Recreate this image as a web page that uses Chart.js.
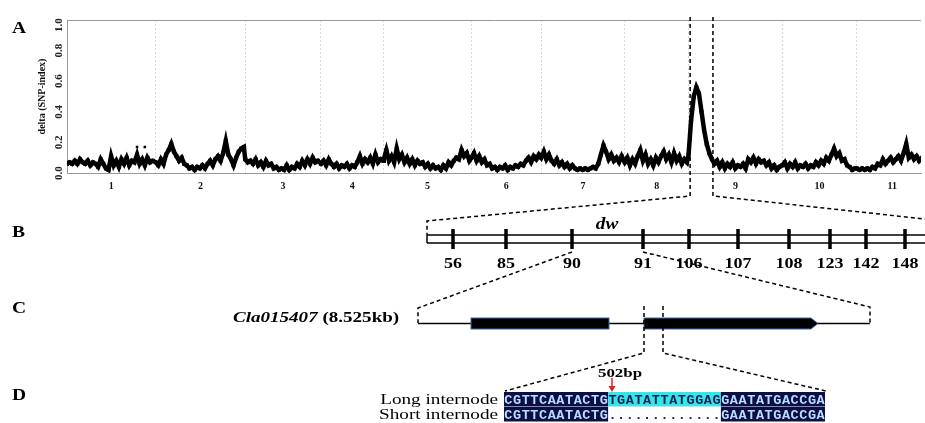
<!DOCTYPE html>
<html>
<head>
<meta charset="utf-8">
<script src="https://cdn.jsdelivr.net/npm/chart.js@4.4.0/dist/chart.umd.min.js"></script>
<style>
html, body { margin: 0; padding: 0; background: #fff; }
#wrap { position: relative; width: 925px; height: 423px; }
</style>
</head>
<body>
<div id="wrap"><canvas id="myChart"></canvas></div>
<script>
// chromosomes and their lengths (Mb)
const chromNames = ['1', '2', '3', '4', '5', '6', '7', '8', '9', '10', '11'];
const chromLen = [34.2, 34.5, 29.2, 24.2, 33.8, 26.9, 32.2, 24.6, 36.1, 28.8, 27.2];

// delta(SNP-index) per 1 Mb bin, in hundredths
const chr1 = [6, 7, 6, 8, 6, 9, 7, 6, 8, 5, 7, 6, 4, 9, 6, 3, 2, 11, 5, 8, 4, 9, 6, 10, 5, 8, 7, 12, 6, 9, 5, 10, 7, 8];
const chr2 = [7, 5, 9, 6, 12, 15, 19, 14, 11, 8, 10, 6, 5, 3, 4, 2, 4, 3, 5, 3, 6, 8, 5, 9, 11, 8, 13, 21, 12, 9, 5, 10, 14, 16, 17];
const chr3 = [9, 7, 8, 6, 9, 5, 7, 4, 8, 5, 6, 3, 4, 2, 3, 2, 5, 2, 4, 3, 6, 4, 8, 5, 9, 6, 10, 7, 8];
const chr4 = [6, 8, 5, 9, 6, 4, 6, 3, 5, 4, 6, 3, 5, 4, 7, 11, 6, 9, 7, 10, 6, 12, 7, 9, 8];
const chr5 = [9, 15, 8, 11, 7, 16, 9, 12, 7, 10, 6, 9, 5, 8, 6, 7, 4, 6, 3, 5, 3, 4, 2, 5, 3, 7, 5, 8, 10, 9, 15, 11, 13, 8];
const chr6 = [10, 13, 8, 11, 7, 9, 5, 6, 3, 4, 2, 4, 3, 5, 2, 4, 3, 5, 4, 6, 5, 8, 10, 7, 11, 9, 12];
const chr7 = [10, 14, 9, 12, 8, 6, 9, 5, 7, 4, 6, 3, 5, 3, 2, 3, 2, 3, 2, 3, 4, 3, 6, 12, 18, 14, 9, 12, 8, 10, 7, 11];
const chr8 = [7, 10, 5, 9, 6, 11, 15, 8, 12, 6, 9, 5, 10, 7, 11, 14, 9, 12, 7, 13, 8, 11, 6, 9, 7];
const chr9 = [12, 35, 50, 56, 52, 40, 28, 19, 13, 9, 6, 8, 4, 7, 3, 6, 4, 7, 3, 5, 4, 6, 3, 9, 7, 10, 6, 9, 7, 8, 5, 7, 3, 5, 2, 4];
const chr10 = [5, 7, 3, 6, 4, 7, 3, 5, 4, 6, 3, 5, 4, 7, 5, 8, 6, 10, 8, 12, 16, 11, 13, 8, 9, 5, 4, 2, 3];
const chr11 = [3, 2, 3, 2, 3, 2, 4, 3, 6, 5, 9, 6, 8, 10, 7, 9, 11, 8, 13, 19, 10, 12, 9, 11, 8, 10, 7];

// isolated points above the band
const outlierChrom = [0, 0];
const outlierPos = [27, 30];
const outlierVal = [17, 17];

const yTicks = [0, 0.2, 0.4, 0.6, 0.8, 1.0];
const xMax = 329.2;           // the plot is cut on the right, inside chr 11
const windowMb = [240.2, 249.0]; // dw locus window

const markerNames = ['56', '85', '90', '91', '106', '107', '108', '123', '142', '148'];
const seqLong = ['CGTTCAATACTG', 'TGATATTATGGAG', 'GAATATGACCGA'];
const seqShort = ['CGTTCAATACTG', '.............', 'GAATATGACCGA'];

const chrVals = [chr1, chr2, chr3, chr4, chr5, chr6, chr7, chr8, chr9, chr10, chr11];
const starts = [];
let acc = 0;
chromLen.forEach(l => { starts.push(acc); acc += l; });
const bounds = starts.concat([acc]).filter(b => b <= xMax);
const centers = starts.map((s, i) => s + chromLen[i] / 2);

const points = [];
chrVals.forEach((vals, c) => vals.forEach((v, i) => points.push({ x: starts[c] + i, y: v / 100 })));
const extra = outlierPos.map((p, i) => ({ x: starts[outlierChrom[i]] + p, y: outlierVal[i] / 100 }));

const near = (a, b) => Math.abs(a - b) < 1e-6;
const serif = '"Liberation Serif", "Times New Roman", serif';
const mono = '"Liberation Mono", "Courier New", monospace';

function sText(ctx, str, x, y, font, align, sx) {
    ctx.save();
    ctx.font = font;
    ctx.textAlign = align;
    ctx.textBaseline = 'alphabetic';
    ctx.translate(x, y);
    ctx.scale(sx, 1);
    ctx.fillText(str, 0, 0);
    ctx.restore();
}

function dashed(ctx, pts) {
    ctx.save();
    ctx.setLineDash([4, 3]);
    ctx.lineWidth = 1.5;
    ctx.strokeStyle = '#000';
    ctx.beginPath();
    ctx.moveTo(pts[0][0], pts[0][1]);
    for (let i = 1; i < pts.length; i++) ctx.lineTo(pts[i][0], pts[i][1]);
    ctx.stroke();
    ctx.restore();
}

const panels = {
    id: 'panels',
    afterDraw(chart) {
        const ctx = chart.ctx;
        const ys = chart.scales.y;
        const xs = chart.scales.x;
        ctx.fillStyle = '#000';

        // rotated y tick labels
        ys.ticks.forEach(t => {
            const py = Math.max(ys.getPixelForValue(t.value), 25);
            ctx.save();
            ctx.translate(59, py);
            ctx.rotate(-Math.PI / 2);
            ctx.font = 'bold 11px ' + serif;
            ctx.textAlign = 'center';
            ctx.textBaseline = 'middle';
            ctx.fillStyle = '#222';
            ctx.fillText(t.value.toFixed(1), 0, 0);
            ctx.restore();
        });

        // panel letters
        ['A', 'B', 'C', 'D'].forEach((l, i) => sText(ctx, l, 12, [33, 237, 313, 400][i], 'bold 17px ' + serif, 'left', 1.15));

        // window around the peak in A and zoom into B
        const wl = xs.getPixelForValue(windowMb[0]);
        const wr = xs.getPixelForValue(windowMb[1]);
        dashed(ctx, [[wl, 17], [wl, 196], [427, 221], [427, 235]]);
        dashed(ctx, [[wr, 17], [wr, 196], [925, 219]]);

        // B: marker map
        ctx.save();
        ctx.strokeStyle = '#000';
        ctx.lineWidth = 1.5;
        ctx.beginPath();
        ctx.moveTo(427, 235); ctx.lineTo(925, 235);
        ctx.moveTo(427, 243); ctx.lineTo(925, 243);
        ctx.moveTo(427, 235); ctx.lineTo(427, 243);
        ctx.stroke();
        const mx = [453, 506, 572, 643, 689, 738, 789, 830, 866, 905];
        ctx.lineWidth = 3.5;
        ctx.beginPath();
        mx.forEach(x => { ctx.moveTo(x, 229); ctx.lineTo(x, 249); });
        ctx.stroke();
        ctx.restore();
        markerNames.forEach((m, i) => sText(ctx, m, mx[i], 268, 'bold 15px ' + serif, 'center', 1.2));
        sText(ctx, 'dw', 607, 229, 'italic bold 16px ' + serif, 'center', 1.2);

        dashed(ctx, [[mx[2], 252], [418, 308], [418, 323]]);
        dashed(ctx, [[mx[3], 252], [870, 307], [870, 323]]);

        // C: gene model
        ctx.save();
        ctx.strokeStyle = '#000';
        ctx.lineWidth = 1.5;
        ctx.beginPath();
        ctx.moveTo(418, 323.5); ctx.lineTo(870, 323.5);
        ctx.stroke();
        ctx.fillStyle = '#000';
        ctx.strokeStyle = '#3a6ab0';
        ctx.lineWidth = 1;
        ctx.fillRect(471, 318, 138, 11);
        ctx.strokeRect(471, 318, 138, 11);
        ctx.beginPath();
        ctx.moveTo(644, 318); ctx.lineTo(811, 318); ctx.lineTo(818, 323.5);
        ctx.lineTo(811, 329); ctx.lineTo(644, 329); ctx.closePath();
        ctx.fill(); ctx.stroke();
        ctx.restore();

        ctx.save();
        ctx.font = 'italic bold 15px ' + serif;
        const w1 = ctx.measureText('Cla015407 ').width * 1.27;
        ctx.restore();
        sText(ctx, 'Cla015407 ', 233, 322, 'italic bold 15px ' + serif, 'left', 1.27);
        sText(ctx, '(8.525kb)', 233 + w1, 322, 'bold 15px ' + serif, 'left', 1.27);

        dashed(ctx, [[644, 306], [644, 353], [505, 391]]);
        dashed(ctx, [[663, 306], [663, 353], [826, 391]]);

        // D: sequence alignment
        sText(ctx, '502bp', 620, 377, 'bold 13px ' + serif, 'center', 1.3);
        ctx.save();
        ctx.strokeStyle = '#e02020';
        ctx.fillStyle = '#e02020';
        ctx.lineWidth = 1.5;
        ctx.beginPath(); ctx.moveTo(612, 378); ctx.lineTo(612, 387); ctx.stroke();
        ctx.beginPath(); ctx.moveTo(608.5, 386); ctx.lineTo(615.5, 386); ctx.lineTo(612, 392); ctx.closePath(); ctx.fill();
        ctx.restore();

        sText(ctx, 'Long internode', 498, 404, '15px ' + serif, 'right', 1.28);
        sText(ctx, 'Short internode', 498, 419, '15px ' + serif, 'right', 1.28);

        const x0 = 504, pitch = 321 / 37;
        [[seqLong, 392], [seqShort, 407]].forEach(([parts, top]) => {
            let k = 0;
            parts.forEach((part, pi) => {
                const px = x0 + k * pitch, pw = part.length * pitch;
                const gap = part.startsWith('.');
                if (pi === 1) {
                    if (!gap) { ctx.fillStyle = '#35e6e8'; ctx.fillRect(px, top, pw, 14.5); }
                } else {
                    ctx.fillStyle = '#0c0f45'; ctx.fillRect(px, top, pw, 14.5);
                }
                ctx.save();
                ctx.font = 'bold 13.5px ' + mono;
                ctx.textAlign = 'center';
                ctx.textBaseline = 'alphabetic';
                ctx.fillStyle = pi === 1 ? '#14205a' : '#b9dcff';
                for (let j = 0; j < part.length; j++) {
                    ctx.fillText(part[j], px + (j + 0.5) * pitch, top + 11.5);
                }
                ctx.restore();
                k += part.length;
            });
        });
    }
};

new Chart(document.getElementById('myChart'), {
    type: 'scatter',
    data: {
        datasets: [{
            data: points,
            showLine: true,
            borderColor: '#000',
            backgroundColor: '#000',
            borderWidth: 4.5,
            pointStyle: 'rect',
            pointRadius: 2.8,
            pointBorderWidth: 0
        }, {
            data: extra,
            borderColor: '#000',
            backgroundColor: '#000',
            pointStyle: 'rect',
            pointRadius: 1.8,
            pointBorderWidth: 0
        }]
    },
    options: {
        responsive: true,
        maintainAspectRatio: false,
        animation: false,
        devicePixelRatio: 1,
        layout: { padding: { top: 20, right: 0, bottom: 230, left: 0 } },
        plugins: { legend: { display: false }, tooltip: { enabled: false } },
        scales: {
            x: {
                type: 'linear',
                min: 0,
                max: xMax,
                afterFit: s => { s.height = 20; },
                afterBuildTicks: s => {
                    s.ticks = bounds.concat(centers.filter(c => c <= xMax)).sort((a, b) => a - b).map(v => ({ value: v }));
                },
                ticks: {
                    autoSkip: false,
                    maxRotation: 0,
                    padding: 7,
                    color: '#111',
                    font: { family: serif, size: 10, weight: 'bold' },
                    callback: v => {
                        const i = centers.findIndex(c => near(c, v));
                        return i >= 0 ? chromNames[i] : '';
                    }
                },
                grid: {
                    drawTicks: false,
                    lineWidth: 1,
                    color: c => (c.tick && bounds.some(b => near(b, c.tick.value)) ? '#d8d8d8' : 'rgba(0,0,0,0)')
                },
                border: { display: true, color: '#9a9a9a', width: 1, dash: [2, 2] }
            },
            y: {
                min: 0,
                max: 1,
                afterFit: s => { s.width = 67; },
                afterBuildTicks: s => { s.ticks = yTicks.map(v => ({ value: v })); },
                ticks: { display: false },
                grid: {
                    drawTicks: false,
                    color: c => (c.tick && c.tick.value > 0.99 ? '#9a9a9a' : 'rgba(0,0,0,0)')
                },
                border: { display: true, color: '#9a9a9a', width: 1 },
                title: {
                    display: true,
                    text: 'delta (SNP-index)',
                    color: '#111',
                    font: { family: serif, size: 10, weight: 'bold' },
                    padding: { top: 36, bottom: 0 }
                }
            }
        }
    },
    plugins: [panels]
});
</script>
</body>
</html>
